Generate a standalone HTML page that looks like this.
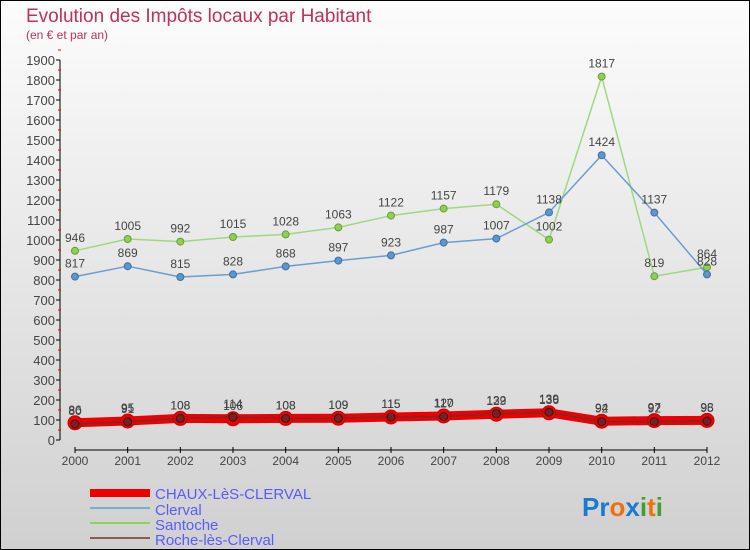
<!DOCTYPE html>
<html><head><meta charset="utf-8"><style>
body{margin:0;width:750px;height:550px;overflow:hidden;font-family:"Liberation Sans",sans-serif}
#wrap{position:absolute;left:0;top:0;width:748px;height:548px;border:1px solid #000;background:linear-gradient(#fcfcfc,#d0d0d0)}
</style></head><body>
<div id="wrap">
<svg id="chart" width="750" height="550" style="position:absolute;left:-1px;top:-1px">
<text x="26" y="22" font-size="19" fill="#c0305a">Evolution des Impôts locaux par Habitant</text>
<text x="26" y="39" font-size="12" fill="#c0305a">(en € et par an)</text>
<g id="axes"></g><g id="series"></g>
<g font-size="15" fill="#5a5aff">
<rect x="90" y="489" width="60" height="8" fill="#e00"/>
<text x="155" y="499">CHAUX-LèS-CLERVAL</text>
<rect x="90" y="507" width="60" height="2" fill="#7aaed0"/>
<text x="155" y="515">Clerval</text>
<rect x="90" y="522" width="60" height="2" fill="#8fd060"/>
<text x="155" y="530">Santoche</text>
<rect x="90" y="537" width="60" height="2" fill="#8a5a5a"/>
<text x="155" y="545">Roche-lès-Clerval</text>
</g>
<g font-size="26" font-weight="bold">
<text x="582" y="516"><tspan fill="#1a7ad0">Pr</tspan><tspan fill="#f07010">o</tspan><tspan fill="#1a7ad0">x</tspan><tspan fill="#40a030">i</tspan><tspan fill="#f07010">t</tspan><tspan fill="#40a030">i</tspan></text>
</g>
</svg></div>
<script>
const years=[2000,2001,2002,2003,2004,2005,2006,2007,2008,2009,2010,2011,2012];
const chaux=[86,95,108,106,108,109,115,120,129,136,94,97,98];
const clerval=[817,869,815,828,868,897,923,987,1007,1138,1424,1137,828];
const santoche=[946,1005,992,1015,1028,1063,1122,1157,1179,1002,1817,819,864];
const roche=[80,91,108,114,108,109,115,117,132,139,92,92,95];
const yTicks=[0,100,200,300,400,500,600,700,800,900,1000,1100,1200,1300,1400,1500,1600,1700,1800,1900];
const NS="http://www.w3.org/2000/svg";
const X=i=>75+i*(707-75)/(years.length-1);
const Y=v=>440-v*0.2;
function mk(tag,attrs,parent){const e=document.createElementNS(NS,tag);for(const k in attrs)e.setAttribute(k,attrs[k]);parent.appendChild(e);return e;}
const ax=document.getElementById('axes'),sg=document.getElementById('series');
let a=mk('line',{x1:60,y1:Y(1900),x2:60,y2:440,stroke:'#000'},ax);


a=mk('line',{x1:75,y1:450,x2:707,y2:450,stroke:'#000'},ax);


yTicks.forEach(v=>{
 mk('line',{x1:56,y1:Y(v),x2:60,y2:Y(v),stroke:'#000'},ax);
 mk('line',{x1:58,y1:Y(v+50),x2:61,y2:Y(v+50),stroke:'#e00'},ax);
 const t=mk('text',{x:55,y:Y(v)+5,'text-anchor':'end','font-size':13,fill:'#444'},ax);t.textContent=v;
 
 
});
years.forEach((y,i)=>{
 mk('line',{x1:X(i),y1:447,x2:X(i),y2:453,stroke:'#000'},ax);
 const t=mk('text',{x:X(i),y:465,'text-anchor':'middle','font-size':12,fill:'#444'},ax);t.textContent=y;
 
 
});
function series(name,vals,color,w,dot,dotStroke,r){
 const g=mk('g',{},sg);
 
 
 mk('polyline',{points:vals.map((v,i)=>X(i)+','+Y(v)).join(' '),fill:'none',stroke:color,'stroke-width':w,'stroke-linejoin':'round'},g);
 vals.forEach((v,i)=>{
  const c=mk('circle',{cx:X(i),cy:Y(v),r:r,fill:dot,stroke:dotStroke,'stroke-width':1},g);
  
  
  const t=mk('text',{x:X(i),y:Y(v)-9,'text-anchor':'middle','font-size':12,fill:'#444'},g);t.textContent=v;
  
  
 });
}
series('santoche',santoche,'#a0d880',1.5,'#8fd050','#6a9a40',3.5);
series('clerval',clerval,'#6a9ed0',1.5,'#5a96d0','#40709a',3.5);
series('chaux',chaux,'#e00',9,'#e00','#c00',7);
series('roche',roche,'#6a3030',1.5,'#7a2020','#3a1010',4);
</script>
</body></html>
